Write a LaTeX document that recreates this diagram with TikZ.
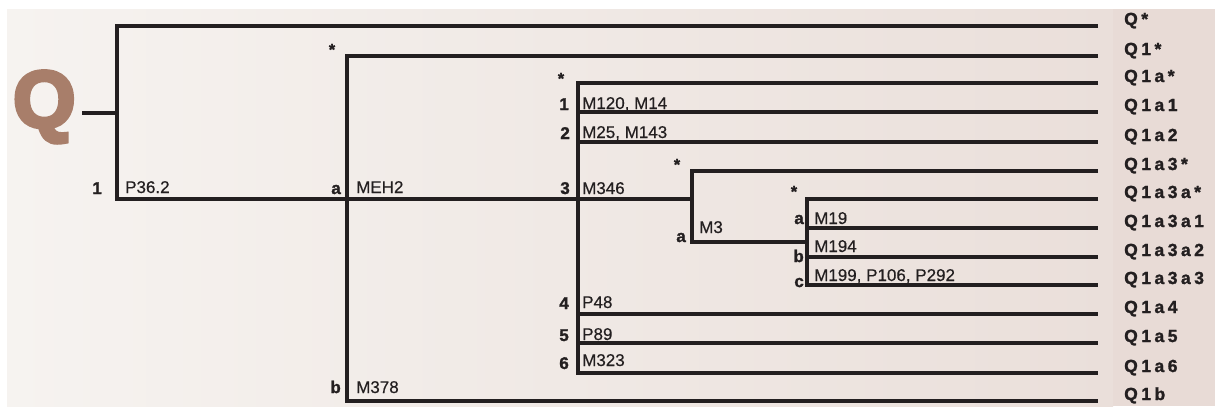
\documentclass[tikz,border=0pt]{standalone}
\usepackage{fontspec}
\setmainfont{Liberation Sans}
\newfontfamily\tagfont[LetterSpace=20, FakeBold=1.5]{Liberation Sans Bold}
\newfontfamily\heavyfont[FakeBold=1.5]{Liberation Sans Bold}
\newfontfamily\bigqfont[FakeBold=5]{Liberation Sans Bold}
\newfontfamily\reffont[FakeBold=0.4]{Liberation Sans}
\definecolor{ink}{RGB}{35,31,32}
\definecolor{qbrown}{RGB}{168,126,106}
\definecolor{bgL}{RGB}{246,243,240}
\definecolor{bgR}{RGB}{234,223,218}
\definecolor{bgS}{RGB}{232,219,214}
\begin{document}
\begin{tikzpicture}[x=1pt,y=-1pt,
 branch/.style={draw=ink, line width=3.1pt, line join=miter},
 idx/.style={anchor=base east, inner sep=0pt, font=\heavyfont\fontsize{17}{17}\selectfont, text=ink},
 ref/.style={anchor=base west, inner sep=0pt, font=\reffont\fontsize{17}{17}\selectfont, text=ink},
 leaf/.style={anchor=base west, inner sep=0pt, font=\tagfont\fontsize{17.5}{17}\selectfont, text=ink},
 star/.style={anchor=base, inner sep=0pt, font=\heavyfont\fontsize{16}{16}\selectfont, text=ink}]
\useasboundingbox (0,0) rectangle (1215,407);
% background
\shade[left color=bgL, right color=bgR] (7,9) rectangle (1113,406);
\fill[bgS] (1113,9) rectangle (1215,406);
% big Q
\node[anchor=base west, inner sep=0pt, text=qbrown, font=\bigqfont\fontsize{80}{80}\selectfont] (Q) at (13,127) {Q};
% coordinates
\coordinate (qL) at (82,113);
\coordinate (n0) at (117,113);
\coordinate (n0t) at (117,26);
\coordinate (n0b) at (117,199);
\coordinate (n1) at (347,199);
\coordinate (n1t) at (347,56);
\coordinate (n1b) at (347,401);
\coordinate (n2) at (578,199);
\coordinate (n2t) at (578,83);
\coordinate (n2b) at (578,373);
\coordinate (n2r1) at (578,112);
\coordinate (n2r2) at (578,142);
\coordinate (n2r4) at (578,314);
\coordinate (n2r5) at (578,343);
\coordinate (n3) at (692,199);
\coordinate (n3t) at (692,171);
\coordinate (n3b) at (692,242);
\coordinate (n4) at (807,242);
\coordinate (n4t) at (807,199);
\coordinate (n4b) at (807,285);
\coordinate (n4r1) at (807,228);
\coordinate (n4r2) at (807,257);
% leaf ends
\foreach \nm/\yy in {eQ/26, eQ1/56, eQ1a/83, eQ1a1/112, eQ1a2/142, eQ1a3/171, eQ1a3a/199, eQ1a3a1/228, eQ1a3a2/257, eQ1a3a3/285, eQ1a4/314, eQ1a5/343, eQ1a6/373, eQ1b/401}
  \coordinate (\nm) at (1098,\yy);
% leaf labels
\node[leaf] (lQ) at (1124,25) {Q*};
\node[leaf] (lQ1) at (1124,55) {Q1*};
\node[leaf] (lQ1a) at (1124,82) {Q1a*};
\node[leaf] (lQ1a1) at (1124,111) {Q1a1};
\node[leaf] (lQ1a2) at (1124,141) {Q1a2};
\node[leaf] (lQ1a3) at (1124,170) {Q1a3*};
\node[leaf] (lQ1a3a) at (1124,198) {Q1a3a*};
\node[leaf] (lQ1a3a1) at (1124,227) {Q1a3a1};
\node[leaf] (lQ1a3a2) at (1124,256) {Q1a3a2};
\node[leaf] (lQ1a3a3) at (1124,284) {Q1a3a3};
\node[leaf] (lQ1a4) at (1124,313) {Q1a4};
\node[leaf] (lQ1a5) at (1124,342) {Q1a5};
\node[leaf] (lQ1a6) at (1124,372) {Q1a6};
\node[leaf] (lQ1b) at (1124,400) {Q1b};
% branches
\draw[branch] (qL) -- (n0);
\draw[branch] (eQ) -- (n0t) -- (n0b) -- (n1) -- (n2) -- (n3);
\draw[branch] (eQ1) -- (n1t) -- (n1b) -- (eQ1b);
\draw[branch] (eQ1a) -- (n2t) -- (n2b) -- (eQ1a6);
\draw[branch] (n2r1) -- (eQ1a1);
\draw[branch] (n2r2) -- (eQ1a2);
\draw[branch] (n2r4) -- (eQ1a4);
\draw[branch] (n2r5) -- (eQ1a5);
\draw[branch] (eQ1a3) -- (n3t) -- (n3b) -- (n4);
\draw[branch] (eQ1a3a) -- (n4t) -- (n4b) -- (eQ1a3a3);
\draw[branch] (n4r1) -- (eQ1a3a1);
\draw[branch] (n4r2) -- (eQ1a3a2);
% index labels
\node[idx] (i1) at (102,194) {1};
\node[idx] (i1a) at (341,194) {a};
\node[idx] (i1b) at (341,393) {b};
\node[idx] (i1a1) at (569,110) {1};
\node[idx] (i1a2) at (570,139) {2};
\node[idx] (i1a3) at (570,194) {3};
\node[idx] (i1a4) at (569,309) {4};
\node[idx] (i1a5) at (569,341) {5};
\node[idx] (i1a6) at (569,369) {6};
\node[idx] (i1a3a) at (686,242) {a};
\node[idx] (i1a3a1) at (804,224) {a};
\node[idx] (i1a3a2) at (804,262) {b};
\node[idx] (i1a3a3) at (804,287) {c};
% stars
\node[star] (s1) at (332,55) {*};
\node[star] (s1a) at (561,84) {*};
\node[star] (s1a3) at (677,170) {*};
\node[star] (s1a3a) at (794,197) {*};
% reference labels
\node[ref] (r1) at (125,193) {P36.2};
\node[ref] (r1a) at (356,193) {MEH2};
\node[ref] (r1b) at (356,393) {M378};
\node[ref] (r1a1) at (582,109) {M120, M14};
\node[ref] (r1a2) at (582,138) {M25, M143};
\node[ref] (r1a3) at (582,194) {M346};
\node[ref] (r1a3a) at (699,233) {M3};
\node[ref] (r1a3a1) at (814,224) {M19};
\node[ref] (r1a3a2) at (814,252) {M194};
\node[ref] (r1a3a3) at (814,281) {M199, P106, P292};
\node[ref] (r1a4) at (582,308) {P48};
\node[ref] (r1a5) at (582,340) {P89};
\node[ref] (r1a6) at (582,366) {M323};
\end{tikzpicture}
\end{document}
